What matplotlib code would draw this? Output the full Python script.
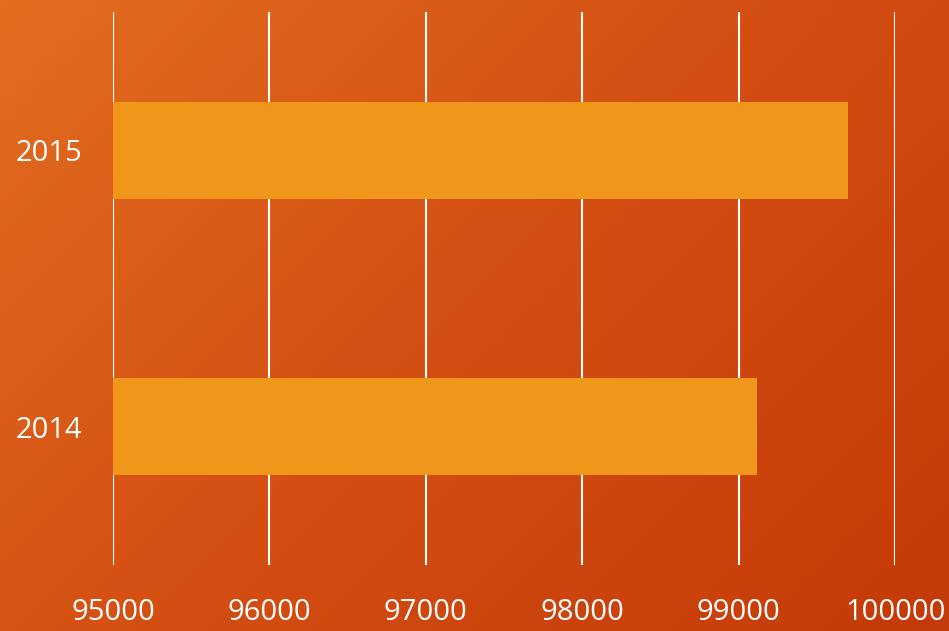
import matplotlib
matplotlib.use("Agg")
import matplotlib.pyplot as plt
import numpy as np
from matplotlib.colors import LinearSegmentedColormap

years = ["2014", "2015"]
values = [99120, 99700]
x_ticks = [95000, 96000, 97000, 98000, 99000, 100000]

fig = plt.figure(figsize=(9.49, 6.31), dpi=100)

# diagonal orange gradient background
bg = fig.add_axes([0, 0, 1, 1], zorder=0)
bg.axis("off")
h, w = 200, 300
yy, xx = np.mgrid[0:h, 0:w]
grad = (xx / w * 0.6 + yy / h * 0.4)
cmap = LinearSegmentedColormap.from_list("bgc", ["#E26D1F", "#D44E12", "#C43A08"])
bg.imshow(grad, cmap=cmap, aspect="auto", extent=[0, 1, 0, 1])

ax = fig.add_axes([113 / 949, 66 / 631, (895 - 113) / 949, 553 / 631], zorder=1)
ax.patch.set_alpha(0)
ypos = np.arange(len(years))
ax.barh(ypos, [v - 95000 for v in values], left=95000, height=0.35,
        color="#F0961A", zorder=3)
ax.set_xlim(95000, 100000)
ax.set_ylim(-0.5, 1.5)
ax.set_xticks(x_ticks)
ax.set_xticklabels([str(t) for t in x_ticks])
ax.set_yticks(ypos)
ax.set_yticklabels(years)
ax.grid(axis="x", color="white", linewidth=1.5, zorder=1)
ax.set_axisbelow(True)
for s in ax.spines.values():
    s.set_visible(False)
ax.tick_params(length=0, colors="white", labelsize=21)
ax.tick_params(axis="x", pad=24)
ax.tick_params(axis="y", pad=22)
for lab in ax.get_xticklabels() + ax.get_yticklabels():
    lab.set_fontfamily("Open Sans")

fig.savefig("out.png", dpi=100)
